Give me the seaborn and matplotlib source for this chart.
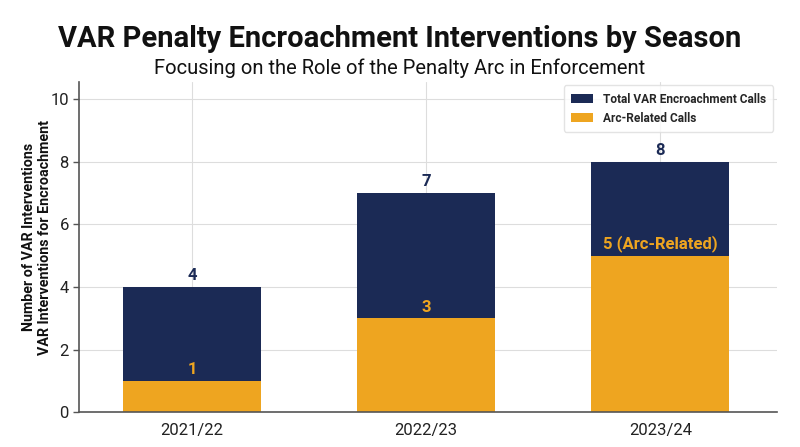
import matplotlib
matplotlib.use("Agg")
import matplotlib.pyplot as plt
import seaborn as sns
import pandas as pd

seasons = ["2021/22", "2022/23", "2023/24"]
total_calls = [4, 7, 8]
arc_calls = [1, 3, 5]
arc_labels = ["1", "3", "5 (Arc-Related)"]

NAVY = "#1b2a55"
ORANGE = "#eea520"

sns.set_theme(style="whitegrid")
plt.rcParams["font.family"] = ["Roboto", "DejaVu Sans"]

fig = plt.figure(figsize=(8, 4.47), dpi=100)
ax = fig.add_axes([0.099, 0.078, 0.872, 0.739])

df = pd.DataFrame({"Season": seasons, "Total": total_calls, "Arc": arc_calls})

sns.barplot(data=df, x="Season", y="Total", color=NAVY, width=0.59, ax=ax,
            label="Total VAR Encroachment Calls", saturation=1, edgecolor="none")
sns.barplot(data=df, x="Season", y="Arc", color=ORANGE, width=0.59, ax=ax,
            label="Arc-Related Calls", saturation=1, edgecolor="none")

for i, (t, a, al) in enumerate(zip(total_calls, arc_calls, arc_labels)):
    ax.text(i, t + 0.12, str(t), ha="center", va="bottom", color=NAVY,
            fontsize=12, fontweight="bold")
    ax.text(i, a + 0.12, al, ha="center", va="bottom", color=ORANGE,
            fontsize=12, fontweight="bold")

ax.set_xlim(-0.482, 2.497)
ax.set_ylim(0, 10.56)
ax.set_yticks([0, 2, 4, 6, 8, 10])
ax.set_xlabel("")
ax.set_ylabel("Number of VAR Interventions\nVAR Interventions for Encroachment",
              fontsize=10.3, fontweight="bold", color="#111111")
ax.yaxis.set_label_coords(-0.039, 0.53)
ax.tick_params(axis="both", labelsize=12, colors="#222222", length=4, width=1)
ax.tick_params(axis="x", bottom=False)
ax.tick_params(axis="y", left=True, color="#555555")
ax.grid(True, color="#dddddd", linewidth=0.8)
ax.set_axisbelow(True)
for s in ["top", "right"]:
    ax.spines[s].set_visible(False)
for s in ["left", "bottom"]:
    ax.spines[s].set_color("#555555")
    ax.spines[s].set_linewidth(1.2)

leg = ax.legend(loc="upper right", fontsize=8.6, frameon=True, fancybox=True,
                borderpad=0.6, handlelength=1.9, borderaxespad=0.3)
for txt in leg.get_texts():
    txt.set_fontweight("bold")
leg.get_frame().set_edgecolor("#dddddd")

fig.text(0.5, 0.913, "VAR Penalty Encroachment Interventions by Season",
         ha="center", va="center", fontsize=21, fontweight="bold", color="#111111")
fig.text(0.5, 0.847, "Focusing on the Role of the Penalty Arc in Enforcement",
         ha="center", va="center", fontsize=14.5, color="#111111")

fig.savefig("out.png", dpi=100)
